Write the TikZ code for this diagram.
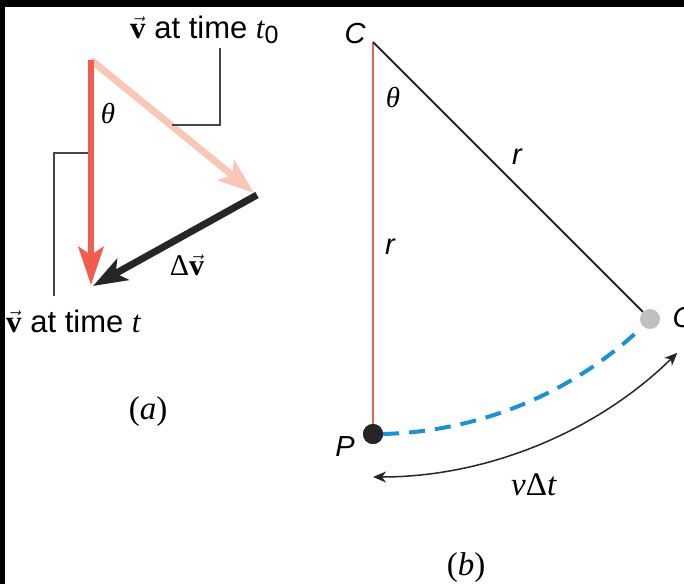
\documentclass[tikz,border=0pt]{standalone}
\usepackage{fontspec}
\setmainfont{Liberation Serif}
\setsansfont{Liberation Sans}
\usetikzlibrary{arrows.meta}
\definecolor{vred}{RGB}{240,92,80}
\definecolor{vpink}{RGB}{249,199,184}
\definecolor{vdark}{RGB}{38,38,38}
\definecolor{vblue}{RGB}{30,144,214}
\definecolor{vgray}{RGB}{190,192,194}
\definecolor{lead}{RGB}{70,70,70}
\newcommand{\bvec}{$\vec{\mbox{\textbf{v}}}$}
\begin{document}
\begin{tikzpicture}[x=1pt,y=1pt,
  sanslab/.style={font=\fontsize{31}{34}\selectfont\sffamily},
  sansit/.style={font=\fontsize{29}{32}\selectfont\sffamily\itshape},
  serlab/.style={font=\fontsize{33}{36}\selectfont},
  thlab/.style={font=\fontsize{29}{32}\selectfont\itshape},
  leader/.style={draw=lead, line width=1.5pt},
  fat/.style={line width=7pt},
  dotnode/.style={circle, inner sep=0pt, minimum size=20pt}]
\useasboundingbox (0,0) rectangle (684,-584);
\fill[white] (0,0) rectangle (684,-584);
\fill[black] (0,0) rectangle (684,-7);
\fill[black] (0,0) rectangle (5,-584);
% ---------- (a)
\coordinate (top) at (91,-60);
\coordinate (redtip) at (91,-285);
\coordinate (pinktip) at (254,-193);
\coordinate (dstart) at (257,-195);
\coordinate (dtip) at (93,-286);
\draw[vpink, fat, -{Stealth[length=36pt,width=26pt,inset=8pt]}] (top) -- (pinktip);
\draw[vred, line width=6.5pt, -{Stealth[length=38pt,width=25pt,inset=8pt]}] (top) -- (redtip);
\draw[vdark, fat, -{Stealth[length=34pt,width=24pt,inset=8pt]}] (dstart) -- (dtip);
\node[sanslab, anchor=base west, inner sep=0pt] (lt0) at (130,-38)
  {{\rmfamily\bvec} at time {\rmfamily\itshape t}\raisebox{-0.35ex}{\fontsize{25}{27}\selectfont 0}};
\node[sanslab, anchor=base west, inner sep=0pt] (lt) at (6,-332)
  {{\rmfamily\bvec} at time {\rmfamily\itshape t}};
\coordinate (k1) at (220,-48);
\coordinate (k2) at (220,-125);
\coordinate (k3) at (172,-125);
\draw[leader] (k1) -- (k2) -- (k3);
\coordinate (m1) at (88,-153);
\coordinate (m2) at (54,-153);
\coordinate (m3) at (54,-296);
\draw[leader] (m1) -- (m2) -- (m3);
\node[thlab] (tha) at (108,-113) {θ};
\node[serlab, font=\fontsize{30}{32}\selectfont] (dv) at (187,-265) {Δ\bvec};
\node[serlab] (pa) at (148,-412) {(\textit{a})};
% ---------- (b)
\coordinate (C) at (373,-42);
\node[dotnode, fill=vdark] (P) at (373,-434) {};
\node[dotnode, fill=vgray] (Q) at (650,-319) {};
\draw[vred, line width=2pt] (C) -- (P.center);
\draw[vdark, line width=2pt] (C) -- (Q);
\draw[vblue, line width=4pt, dash pattern=on 16pt off 10pt]
  (P.east) arc[start angle=-88.5, end angle=-48, radius=392];
\node[dotnode, fill=vdark] at (P) {};
\coordinate (arcA) at (373,-477);
\draw[vdark, line width=1.5pt, {Stealth[length=13pt,width=11pt,inset=4pt]}-{Stealth[length=13pt,width=11pt,inset=4pt]}]
  (arcA) arc[start angle=-90, end angle=-45.6, radius=435];
\node[sansit] (lC) at (355,-34) {C};
\node[sansit, anchor=west] (lQ) at (669,-318) {C};
\node[sansit] (lP) at (345,-447) {P};
\node[sansit] (r1) at (517,-157) {r};
\node[sansit] (r2) at (390,-247) {r};
\node[thlab] (thb) at (393,-97) {θ};
\node[serlab] (vdt) at (534,-485) {\textit{v}Δ\textit{t}};
\node[serlab] (pb) at (466,-568) {(\textit{b})};
\end{tikzpicture}
\end{document}
